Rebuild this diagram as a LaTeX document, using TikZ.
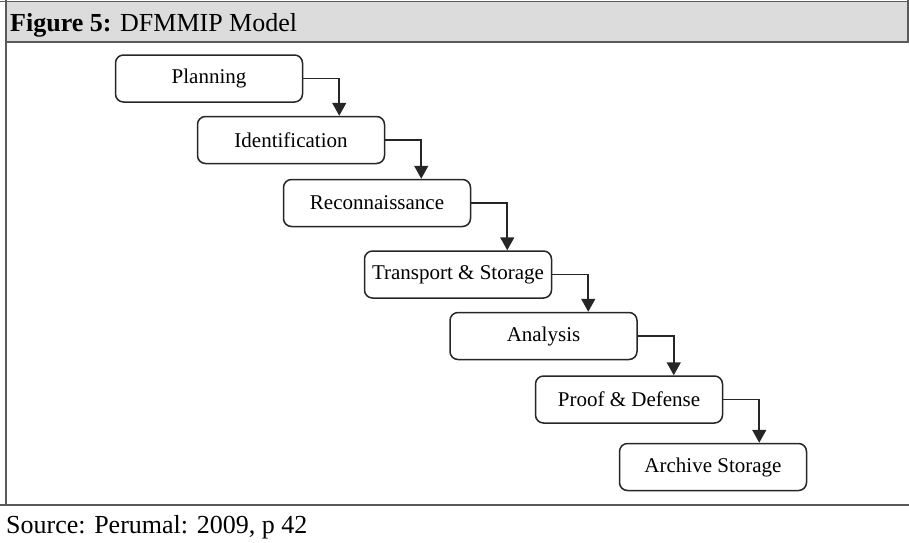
\documentclass[tikz,border=0pt]{standalone}
\usepackage{fontspec}
\setmainfont{Liberation Serif}
\usetikzlibrary{arrows.meta,calc}
\definecolor{headgray}{HTML}{DCDCDC}
\definecolor{framegray}{HTML}{5A5A5A}
\tikzset{
  stagebox/.style={draw=black!85, line width=1.5pt, rounded corners=8pt,
    minimum width=187pt, minimum height=47pt, inner sep=0pt,
    font=\fontsize{21}{24}\selectfont},
  flow/.style={draw=black!85, line width=1.6pt,
    -{Triangle[width=14pt,length=13pt]}},
  frameline/.style={draw=framegray, line width=1.5pt},
}
\begin{document}
\begin{tikzpicture}[x=1pt,y=-1pt]
  \useasboundingbox (0,0) rectangle (909,542);
  % header band
  \fill[headgray] (6,2) rectangle (909,42);
  \draw[frameline] (0,1.5) -- (909,1.5);
  \draw[draw=framegray, line width=2.2pt] (6,42) -- (909,42);
  \draw[frameline] (6,0) -- (6,505);
  \draw[frameline] (908,0) -- (908,42);
  \draw[frameline] (0,505) -- (909,505);
  \node[anchor=base west, inner sep=0pt, font=\fontsize{26}{30}\selectfont]
    (title) at (10,31) {\textbf{Figure 5:} DFMMIP Model};
  \node[anchor=base west, inner sep=0pt, font=\fontsize{26}{30}\selectfont]
    (source) at (6,533) {Source: Perumal: 2009, p 42};

  % process stages
  \node[stagebox] (plan)  at (209,78.5)  {Planning};
  \node[stagebox] (ident) at (291,140)   {Identification};
  \node[stagebox] (recon) at (377,203)   {Reconnaissance};
  \node[stagebox] (trans) at (458,274.5) {Transport \& Storage};
  \node[stagebox] (anal)  at (543.5,336) {Analysis};
  \node[stagebox] (proof) at (629,399.5) {Proof \& Defense};
  \node[stagebox] (arch)  at (713,467)   {Archive Storage};

  % elbow connectors between consecutive stages
  \foreach \a/\b in {plan/ident, ident/recon, recon/trans, trans/anal,
                     anal/proof, proof/arch} {
    \coordinate (\a-turn) at ($(\a.east)+(36,0)$);
    \draw[flow] (\a.east) -- (\a-turn) -- (\a-turn |- \b.north);
  }
\end{tikzpicture}
\end{document}
